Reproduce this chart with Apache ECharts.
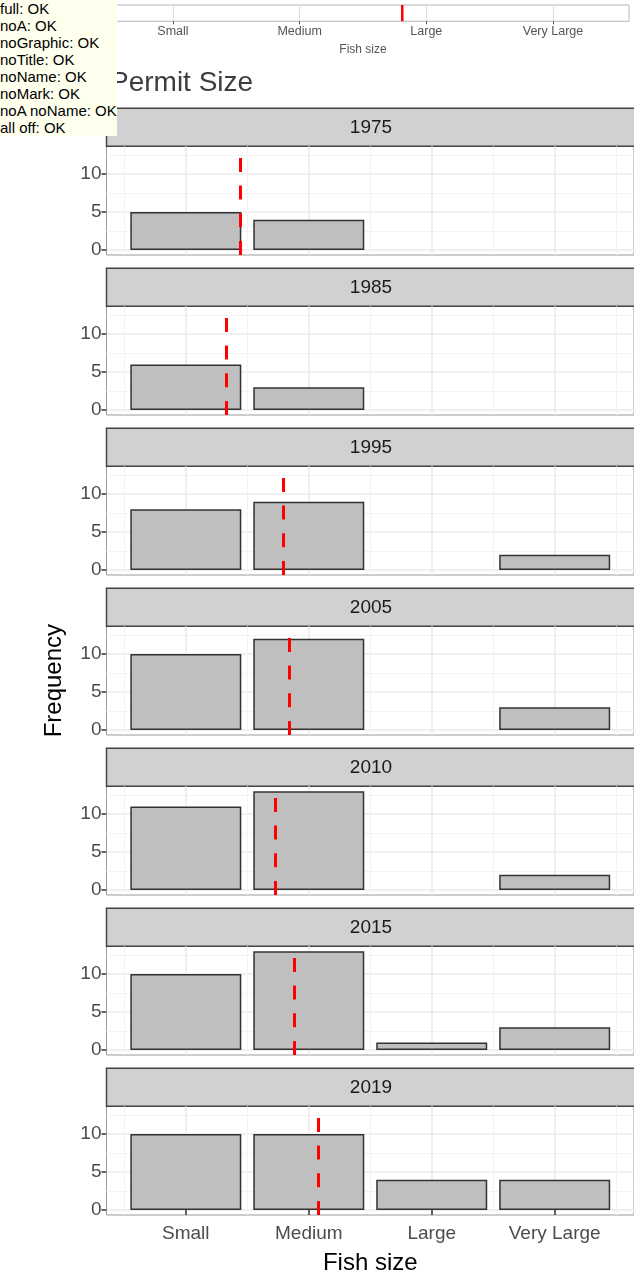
<!DOCTYPE html>
<html>
<head>
<meta charset="utf-8">
<script src="https://cdn.jsdelivr.net/npm/echarts@6/dist/echarts.min.js"></script>
<style>
body { margin: 0; font: 15px 'Liberation Sans'; }
.c { width: 634px; height: 1278px; position: absolute; left: 0; top: 0; visibility: hidden; }
#log { position: absolute; left: 0; top: 0; z-index: 10; background: #ffe; }
</style>
</head>
<body>
<div id="log"></div>
<div id="box"></div>
<script>
var sizeNames = ['Small', 'Medium', 'Large', 'Very Large']
var sizePos = [1, 2, 3, 4]
var years = ['1975', '1985', '1995', '2005', '2010', '2015', '2019']
var freqs = [[5, 4, null, null], [6, 3, null, null], [8, 9, null, 2], [10, 12, null, 3], [11, 13, null, 2], [10, 13, 1, 3], [10, 10, 4, 4]]
var meanSize = [1.44, 1.33, 1.79, 1.84, 1.73, 1.88, 2.08]
var yTicks = [0, 5, 10], yMinor = [2.5, 7.5, 12.5], xMinor = [0.5, 1.5, 2.5, 3.5, 4.5]
var panelAMean = 2.81
var LEFT = 106.5, WIDTH = 529, TOP0 = 146.3, PLOT_H = 108.7, STEP = 160, STRIP_H = 38
var X_MIN = 0.355, X_MAX = 4.645, Y_MIN = -0.65, Y_MAX = 13.65

function build(f) {
    var grid = [], xAxis = [], yAxis = [], series = [], graphic = []
    for (var i = 0; i < years.length; i++) {
        var last = i === years.length - 1
        var top = TOP0 + i * STEP
        grid.push({ left: LEFT, width: WIDTH, top: top, height: PLOT_H, show: true, borderColor: '#9a9a9a', borderWidth: 1 })
        var xa = {
            type: 'value', gridIndex: i, min: X_MIN, max: X_MAX,
            axisLine: { show: false },
            axisTick: { show: last, customValues: sizePos, length: 5, lineStyle: { color: '#333', width: 1.5 } },
            axisLabel: { show: last, customValues: sizePos, margin: 9, color: '#4D4D4D', fontSize: 19, formatter: function (v) { return sizeNames[Math.round(v) - 1] } },
            splitLine: { show: true, lineStyle: { color: '#EBEBEB', width: 1.6 } }
        }
        if (!f.noName) { xa.name = last ? 'Fish size' : ''; xa.nameLocation = 'middle'; xa.nameGap = 36; xa.nameTextStyle = { color: '#000', fontSize: 24 } }
        xAxis.push(xa)
        xAxis.push({ type: 'value', gridIndex: i, min: X_MIN, max: X_MAX, axisLine: { show: false }, axisTick: { show: false, customValues: xMinor }, axisLabel: { show: false, customValues: xMinor }, splitLine: { show: true, lineStyle: { color: '#F3F3F3', width: 1 } } })
        var ya = {
            type: 'value', gridIndex: i, min: Y_MIN, max: Y_MAX,
            axisLine: { show: false },
            axisTick: { show: true, customValues: yTicks, length: 5, lineStyle: { color: '#333', width: 1.5 } },
            axisLabel: { customValues: yTicks, margin: 5, color: '#4D4D4D', fontSize: 19 },
            splitLine: { show: true, lineStyle: { color: '#EBEBEB', width: 1.6 } }
        }
        if (!f.noName) { ya.name = i === 3 ? 'Frequency' : ''; ya.nameLocation = 'middle'; ya.nameGap = 40; ya.nameTextStyle = { color: '#000', fontSize: 24 } }
        yAxis.push(ya)
        yAxis.push({ type: 'value', gridIndex: i, min: Y_MIN, max: Y_MAX, axisLine: { show: false }, axisTick: { show: false, customValues: yMinor }, axisLabel: { show: false, customValues: yMinor }, splitLine: { show: true, lineStyle: { color: '#F3F3F3', width: 1 } } })
        var data = []
        freqs[i].forEach(function (v, k) { if (v !== null) data.push([sizePos[k], v]) })
        var s = { type: 'bar', xAxisIndex: i * 2, yAxisIndex: i * 2, barWidth: 111, itemStyle: { color: '#BFBFBF', borderColor: '#333', borderWidth: 1.5 }, data: data }
        if (!f.noMark) s.markLine = { silent: true, symbol: ['none', 'none'], label: { show: false }, lineStyle: { color: '#FF0000', width: 3, type: [14, 13.7] }, data: [[{ coord: [meanSize[i], Y_MIN] }, { coord: [meanSize[i], Y_MAX] }]] }
        series.push(s)
        graphic.push({ type: 'rect', shape: { x: LEFT, y: top - STRIP_H, width: WIDTH, height: STRIP_H }, style: { fill: '#D1D1D1', stroke: '#444', lineWidth: 1.5 } })
        graphic.push({ type: 'text', x: LEFT + WIDTH / 2, y: top - STRIP_H / 2, style: { text: years[i], fill: '#1A1A1A', fontSize: 19, align: 'center', verticalAlign: 'middle' } })
    }
    if (!f.noA) {
        grid.push({ left: 97, width: 532, top: -60, height: 65, show: true, borderColor: '#b5b5b5', borderWidth: 1 })
        xAxis.push({ type: 'value', gridIndex: 7, min: 0.4, max: 4.6, axisLine: { show: false }, axisTick: { show: true, customValues: sizePos, length: 3 }, axisLabel: { customValues: sizePos, margin: 4, fontSize: 12.5, formatter: function (v) { return sizeNames[Math.round(v) - 1] } }, splitLine: { show: true }, name: 'Fish size', nameLocation: 'middle', nameGap: 22 })
        yAxis.push({ type: 'value', gridIndex: 7, min: 0, max: 10, axisLine: { show: false }, axisTick: { show: false }, axisLabel: { show: false }, splitLine: { show: false } })
        series.push({ type: 'line', xAxisIndex: 14, yAxisIndex: 14, symbol: 'none', lineStyle: { color: '#FF0000', width: 2.5 }, data: [[panelAMean, 0], [panelAMean, 10]] })
    }
    var o = { animation: false, grid: grid, xAxis: xAxis, yAxis: yAxis, series: series }
    if (!f.noGraphic) o.graphic = graphic
    if (!f.noTitle) o.title = { text: 'Permit Size', left: 105, top: 64, textStyle: { fontSize: 28, fontWeight: 'normal' } }
    return o
}
var log = document.getElementById('log')
var good = null
function test(name, f) {
    var d = document.createElement('div')
    d.className = 'c'
    document.getElementById('box').appendChild(d)
    var msg
    try { echarts.init(d).setOption(build(f)); msg = 'OK'; if (!good) good = d } catch (e) { msg = 'FAIL ' + e.message }
    var p = document.createElement('div')
    p.textContent = name + ': ' + msg
    log.appendChild(p)
}
test('full', {})
test('noA', { noA: true })
test('noGraphic', { noGraphic: true })
test('noTitle', { noTitle: true })
test('noName', { noName: true })
test('noMark', { noMark: true })
test('noA noName', { noA: true, noName: true })
test('all off', { noA: true, noName: true, noGraphic: true, noTitle: true, noMark: true })
if (good) good.style.visibility = 'visible'
</script>
</body>
</html>
